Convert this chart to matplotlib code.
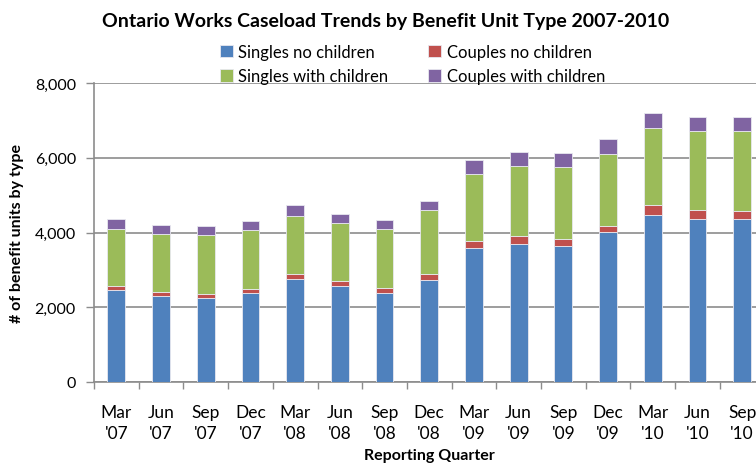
import matplotlib
matplotlib.use("Agg")
import matplotlib.pyplot as plt
import numpy as np

plt.rcParams["font.family"] = ["Lato", "DejaVu Sans"]

# 데이터
quarters = ["Mar\n'07", "Jun\n'07", "Sep\n'07", "Dec\n'07", "Mar\n'08", "Jun\n'08", "Sep\n'08", "Dec\n'08",
            "Mar\n'09", "Jun\n'09", "Sep\n'09", "Dec\n'09", "Mar\n'10", "Jun\n'10", "Sep\n'10"]
singles_no_children = [2460, 2290, 2250, 2390, 2755, 2560, 2375, 2740, 3585, 3700, 3650, 4005, 4475, 4370, 4355]
couples_no_children = [110, 125, 105, 105, 145, 135, 140, 150, 190, 205, 185, 180, 260, 235, 220]
singles_with_children = [1515, 1535, 1570, 1570, 1550, 1550, 1590, 1700, 1790, 1875, 1925, 1915, 2060, 2105, 2130]
couples_with_children = [275, 250, 250, 250, 275, 240, 230, 265, 375, 375, 375, 395, 400, 375, 375]

series = [
    ("Singles no children", singles_no_children, "#4F81BD"),
    ("Couples no children", couples_no_children, "#C0504D"),
    ("Singles with children", singles_with_children, "#9BBB59"),
    ("Couples with children", couples_with_children, "#8064A2"),
]

fig = plt.figure(figsize=(7.56, 4.64), dpi=100)
ax = fig.add_axes([94 / 756, 1 - 383 / 464, (764.5 - 94) / 756, (383 - 84) / 464])

x = np.arange(len(quarters))
bottom = np.zeros(len(quarters))
handles = {}
for name, vals, col in series:
    b = ax.bar(x, vals, width=0.4, bottom=bottom, color=col, edgecolor="#E8E8F0",
               linewidth=0.6, label=name, zorder=3)
    handles[name] = b
    bottom = bottom + np.array(vals)

ax.set_xlim(-0.5, len(quarters) - 0.5)
ax.set_ylim(0, 8000)
ax.set_yticks([0, 2000, 4000, 6000, 8000])
ax.set_yticklabels(["0", "2,000", "4,000", "6,000", "8,000"])
ax.yaxis.grid(True, color="#8C8C8C", linewidth=1.2, zorder=0)

ax.set_xticks(x)
ax.set_xticklabels(quarters, linespacing=1.4)
ax.set_xticks(np.arange(-0.5, len(quarters), 1), minor=True)
ax.tick_params(axis="x", which="major", length=0, pad=16, labelsize=12.5, colors="#000000")
ax.tick_params(axis="x", which="minor", length=5, width=1, color="#8C8C8C", direction="out")
ax.tick_params(axis="y", length=6, width=1, color="#8C8C8C", pad=7, labelsize=11.5)

for s in ["top", "right"]:
    ax.spines[s].set_visible(False)
for s in ["left", "bottom"]:
    ax.spines[s].set_color("#8C8C8C")
    ax.spines[s].set_linewidth(1.2)

ax.set_ylabel("# of benefit units by type", fontsize=11.5, fontweight="bold", labelpad=8)
ax.set_xlabel("Reporting Quarter", fontsize=11.5, fontweight="bold", labelpad=5)

fig.text(386 / 756, 1 - 22 / 464, "Ontario Works Caseload Trends by Benefit Unit Type 2007-2010",
         ha="center", va="center", fontsize=14, fontweight="bold")

order = ["Singles no children", "Singles with children", "Couples no children", "Couples with children"]
fig.legend([handles[n] for n in order], order, ncol=2, loc="upper left",
           bbox_to_anchor=(205 / 756, 1 - 30 / 464), frameon=False, fontsize=12,
           handlelength=0.75, handleheight=0.75, handletextpad=0.35, columnspacing=2.4,
           labelspacing=0.5)

fig.savefig("out.png", dpi=100)
